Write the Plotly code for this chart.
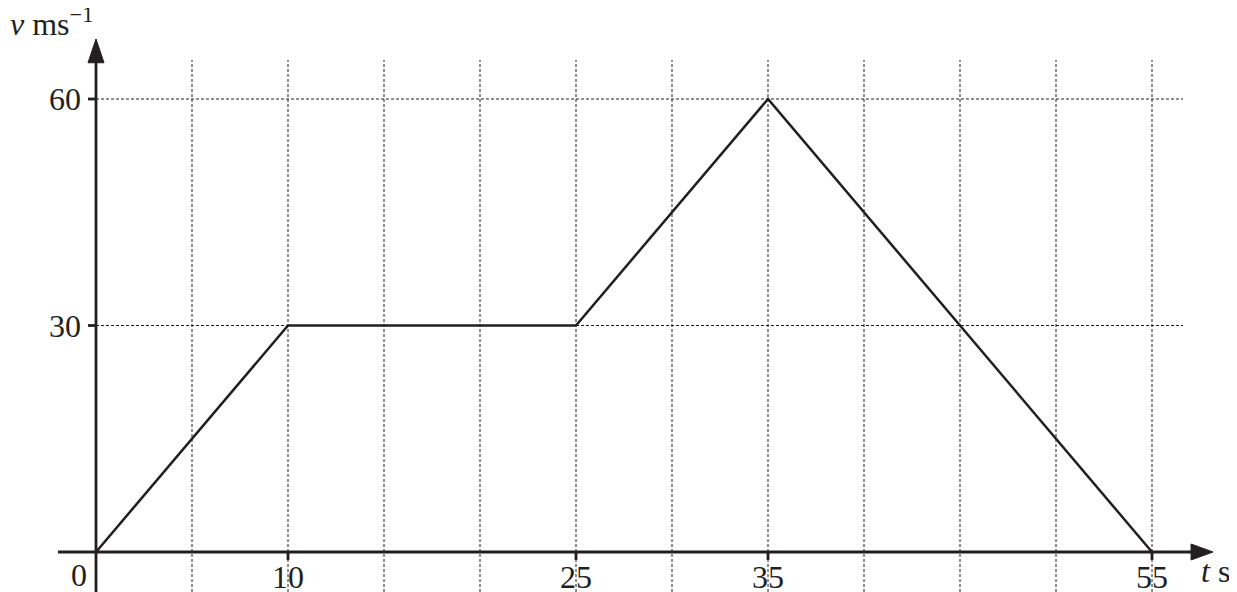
import plotly.graph_objects as go

# Data
t_vals = [0, 10, 25, 35, 55]
v_vals = [0, 30, 30, 60, 0]
x_tick_vals = [10, 25, 35, 55]
x_tick_text = ["10", "25", "35", "55"]
y_tick_vals = [30, 60]
y_tick_text = ["30", "60"]
grid_x = [5, 10, 15, 20, 25, 30, 35, 40, 45, 50, 55]
grid_y = [30, 60]

OFF = 8  # page body margin
W, H = 1237 - OFF, 592 - OFF
PPX = 19.2
PPY = 7.55
ORIGIN_PX = 96 - OFF   # x pixel of t=0 inside figure
ORIGIN_PY = 552 - OFF  # y pixel of v=0 inside figure
X0 = -ORIGIN_PX / PPX
X1 = X0 + W / PPX
Y1 = ORIGIN_PY / PPY
Y0 = Y1 - H / PPY


def fx(px):
    return (px - 96) / PPX


def fy(py):
    return (552 - py) / PPY


INK = "#231f20"
fig = go.Figure()
fig.add_trace(go.Scatter(x=t_vals, y=v_vals, mode="lines",
                         line=dict(color=INK, width=2.5),
                         hoverinfo="skip", showlegend=False))

shapes = []
grid_top = fy(60)
grid_right = fx(1183)
for gx in grid_x:
    shapes.append(dict(type="line", x0=gx, x1=gx, y0=Y0, y1=grid_top, xref="x", yref="y",
                       line=dict(color=INK, width=1, dash="3px,2px"), layer="below"))
for gy in grid_y:
    shapes.append(dict(type="line", x0=0, x1=grid_right, y0=gy, y1=gy, xref="x", yref="y",
                       line=dict(color=INK, width=1, dash="3px,2px"), layer="below"))

# axes
ax_left = fx(58)
x_arrow_base = fx(1192)
x_arrow_tip = fx(1213)
y_arrow_base = fy(62)
y_arrow_tip = fy(39)
shapes.append(dict(type="line", x0=ax_left, x1=x_arrow_base, y0=0, y1=0,
                   line=dict(color=INK, width=2.8)))
shapes.append(dict(type="line", x0=0, x1=0, y0=Y0, y1=y_arrow_base,
                   line=dict(color=INK, width=2.8)))
hw_y = 8 / PPY
hw_x = 8 / PPX
shapes.append(dict(type="path",
                   path=f"M {x_arrow_base - 0.05} {-hw_y} L {x_arrow_tip} 0 L {x_arrow_base - 0.05} {hw_y} Z",
                   fillcolor=INK, line=dict(color=INK, width=1)))
shapes.append(dict(type="path",
                   path=f"M {-hw_x} {y_arrow_base - 0.1} L 0 {y_arrow_tip} L {hw_x} {y_arrow_base - 0.1} Z",
                   fillcolor=INK, line=dict(color=INK, width=1)))

# ticks
tick_len_y = 8 / PPY
tick_len_x = 8 / PPX
for tx in x_tick_vals:
    shapes.append(dict(type="line", x0=tx, x1=tx, y0=0, y1=-tick_len_y,
                       line=dict(color=INK, width=2.8)))
for ty in y_tick_vals:
    shapes.append(dict(type="line", x0=0, x1=-tick_len_x, y0=ty, y1=ty,
                       line=dict(color=INK, width=2.8)))

font = dict(family="Liberation Serif", size=32, color=INK)
annotations = []
for tx, tt in zip(x_tick_vals, x_tick_text):
    annotations.append(dict(x=tx, y=fy(577), text=tt, showarrow=False, xanchor="center",
                            yanchor="middle", font=font))
for ty, tt in zip(y_tick_vals, y_tick_text):
    annotations.append(dict(x=fx(83), y=ty, text=tt, showarrow=False, xanchor="right",
                            yanchor="middle", font=font))
annotations.append(dict(x=fx(89), y=fy(575), text="0", showarrow=False, xanchor="right",
                        yanchor="middle", font=font))
annotations.append(dict(x=fx(1199), y=fy(571), text="<i>t</i> s", showarrow=False,
                        xanchor="left", yanchor="middle", font=font))
annotations.append(dict(x=fx(8), y=fy(44), text="<i>v</i> ms<sup>−1</sup>", showarrow=False,
                        xanchor="left", yanchor="bottom", font=font))

fig.update_layout(
    width=W, height=H,
    margin=dict(l=0, r=0, t=0, b=0),
    paper_bgcolor="white", plot_bgcolor="white",
    xaxis=dict(range=[X0, X1], visible=False, fixedrange=True),
    yaxis=dict(range=[Y0, Y1], visible=False, fixedrange=True),
    shapes=shapes, annotations=annotations,
)
fig.write_html("out.html")
